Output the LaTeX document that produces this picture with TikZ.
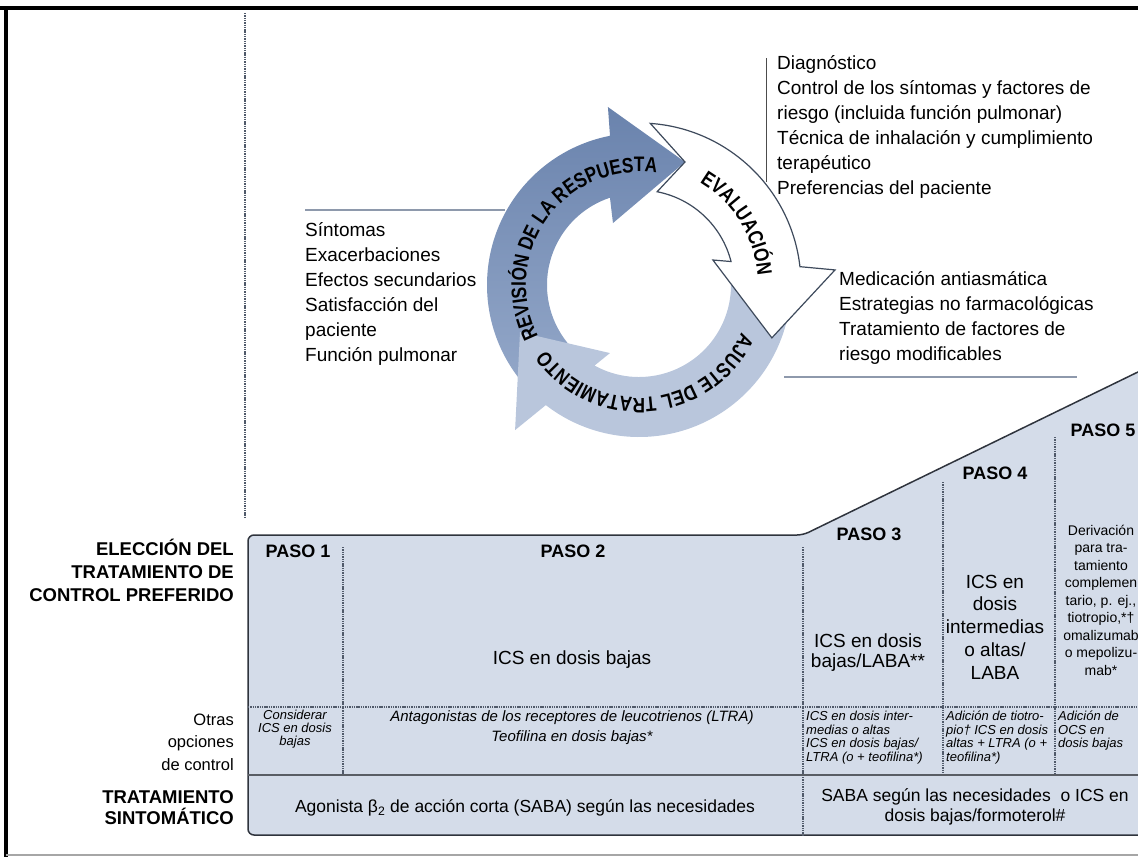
\documentclass[tikz,border=0pt]{standalone}
\usepackage{fontspec}
\setmainfont{Liberation Sans}
\newfontfamily\cycfam[FakeStretch=0.82]{Liberation Sans}
\usetikzlibrary{decorations.text}

\definecolor{revblue}{HTML}{7D94BA}
\definecolor{revdark}{HTML}{6A83AD}
\definecolor{revlight}{HTML}{94A8C9}
\definecolor{ajugrey}{HTML}{B9C6DC}
\definecolor{evaline}{HTML}{3E4A5C}
\definecolor{tabfill}{HTML}{D4DCE9}
\definecolor{tabline}{HTML}{2F343D}
\definecolor{dotline}{HTML}{505A6A}
\definecolor{rulegrey}{HTML}{8E99AC}

\begin{document}
\begin{tikzpicture}[x=1pt, y=1pt,
  txt/.style={font=\fontsize{19}{25}\selectfont, align=left, inner sep=0pt},
  lbl/.style={font=\bfseries\fontsize{18.5}{23}\selectfont, align=right, inner sep=0pt},
  lbltwo/.style={font=\bfseries\fontsize{18.5}{21}\selectfont, align=right, inner sep=0pt},
  side/.style={font=\fontsize{16.5}{22.5}\selectfont, align=right, inner sep=0pt},
  paso/.style={font=\bfseries\fontsize{18}{20}\selectfont, inner sep=0pt},
  big/.style={font=\fontsize{19}{21}\selectfont, align=center, inner sep=0pt},
  small/.style={font=\itshape\fontsize{13}{13.5}\selectfont, align=left, inner sep=0pt},
  divider/.style={draw=dotline, line width=1.1pt, dash pattern=on 1.4pt off 0.9pt},
  rowline/.style={draw=tabline!80, line width=1.4pt}]
\newcommand{\cycin}{92}
\newcommand{\cycout}{152}
\newcommand{\cycfont}{\cycfam\bfseries\fontsize{21}{21}\selectfont}

\useasboundingbox (0,0) rectangle (1138,-857);
\clip (0,0) rectangle (1138,-857);

% frame
\draw [line width=4pt] (0,-8) -- (1138,-8);
\draw [line width=4pt] (6,-8) -- (6,-857);
\draw [line width=1.5pt, color=black!35] (6,-855) -- (1138,-855);
\draw [divider] (245,-13) -- (245,-518);

% cycle
\begin{scope}[shift={(639,-285)}]
\coordinate (O) at (0,0);
\shade [top color=revdark, bottom color=revlight]
  (225:\cycout) arc [start angle=225, end angle=101, radius=\cycout]
  -- (99.9:180.7) -- (69.5:131.3) -- (112.8:67.2) -- (108.4:\cycin)
  arc [start angle=108.4, end angle=225, radius=\cycin] -- cycle;
\fill [ajugrey] (2:\cycout) arc [start angle=2, end angle=-127.8, radius=\cycout]
  -- (-130.5:190.8) -- (-158.4:128) -- (-113.1:74) -- (-118.9:\cycin)
  arc [start angle=-118.9, end angle=2, radius=\cycin] -- cycle;
\draw [fill=white, draw=evaline, line width=1.2pt, line join=miter]
  (86:162) arc [start angle=86, end angle=6.5, radius=162]
  -- (4.4:196.6) -- (-21.7:143) -- (18.7:78) -- (14.3:95)
  arc [start angle=14.3, end angle=79, radius=95] -- (69.5:131.3) -- cycle;

\path [decorate, decoration={text along path, text align=center,
  text={|\cycfont|REVISIÓN DE LA RESPUESTA}}]
  (224:113) arc [start angle=224, end angle=64, radius=113];
\path [decorate, decoration={text along path, text align=center,
  text={|\cycfont|EVALUACIÓN}}]
  (75:119) arc [start angle=75, end angle=-11, radius=119];
\path [decorate, decoration={text along path, text align=center,
  text={|\cycfont|AJUSTE DEL TRATAMIENTO}}]
  (-5:113) arc [start angle=-5, end angle=-165, radius=113];
\end{scope}

% texts around the cycle
\draw [color=black!70, line width=1pt] (766,-58) -- (766,-182);
\node [txt, anchor=west] (evalist) at (777,-127)
  {Diagnóstico\\Control de los síntomas y factores de\\riesgo (incluida función pulmonar)\\Técnica de inhalación y cumplimiento\\terapéutico\\Preferencias del paciente};
\draw [color=rulegrey, line width=1.5pt] (305,-210) -- (505,-210);
\node [txt, anchor=west] (revlist) at (305,-294)
  {Síntomas\\Exacerbaciones\\Efectos secundarios\\Satisfacción del\\paciente\\Función pulmonar};
\node [txt, anchor=west] (ajulist) at (839,-317.5)
  {Medicación antiasmática\\Estrategias no farmacológicas\\Tratamiento de factores de\\riesgo modificables};
\draw [color=rulegrey, line width=1.5pt] (784,-377) -- (1077,-377);

% table
\draw [fill=tabfill, draw=tabline, line width=1.5pt, rounded corners=6]
  (803,-535) -- (1170,-356.4) -- (1170,-835) -- (248,-835) -- (248,-535) -- cycle;
\draw [divider] (343,-547) -- (343,-775);
\draw [divider] (803,-547) -- (803,-835);
\draw [divider] (943,-482) -- (943,-773);
\draw [divider] (1055,-437) -- (1055,-773);
\draw [divider] (248,-707) -- (1170,-707);
\draw [rowline] (248,-775) -- (1170,-775);

\node [lbl, anchor=east] (eleccion) at (234,-570) {ELECCIÓN DEL\\TRATAMIENTO DE\\CONTROL PREFERIDO};
\node [side, anchor=east] (otras) at (234,-742) {Otras\\opciones\\de control};
\node [lbltwo, anchor=east] (sintom) at (234,-808) {TRATAMIENTO\\SINTOMÁTICO};

\node [paso] (paso1) at (298,-551) {PASO 1};
\node [paso] (paso2) at (573,-551) {PASO 2};
\node [paso] (paso3) at (869,-534) {PASO 3};
\node [paso] (paso4) at (995,-473) {PASO 4};
\node [paso] (paso5) at (1103,-430) {PASO 5};

\node [big] (pref2) at (572,-660) {ICS en dosis bajas};
\node [big, font=\fontsize{19}{20}\selectfont] (pref3) at (868,-653) {ICS en dosis\\bajas/LABA**};
\node [big, font=\fontsize{19}{22.7}\selectfont] (pref4) at (995,-627) {ICS en\\dosis\\intermedias\\o altas/\\LABA};
\node [big, font=\fontsize{14}{17.5}\selectfont] (pref5) at (1101,-600)
  {Derivación\\para tra-\\tamiento\\complemen\\tario, p. ej.,\\tiotropio,*†\\omalizumab\\o mepolizu-\\mab*};

\node [small, align=center, font=\itshape\fontsize{13}{13}\selectfont] (otra1) at (295,-729) {Considerar\\ICS en dosis\\bajas};
\node [small, align=center, font=\itshape\fontsize{15}{20}\selectfont] (otra2) at (572,-728)
  {Antagonistas de los receptores de leucotrienos (LTRA)\\Teofilina en dosis bajas*};
\node [small, anchor=north west] (otra3) at (806,-711) {ICS en dosis inter-\\medias o altas\\ICS en dosis bajas/\\LTRA (o + teofilina*)};
\node [small, anchor=north west] (otra4) at (946,-711) {Adición de tiotro-\\pio† ICS en dosis\\altas + LTRA (o +\\teofilina*)};
\node [small, anchor=north west] (otra5) at (1058,-711) {Adición de\\OCS en\\dosis bajas};

\node [big, font=\fontsize{17.5}{20}\selectfont] (agon) at (525,-808) {Agonista β\textsubscript{2} de acción corta (SABA) según las necesidades};
\node [big, font=\fontsize{17.5}{20}\selectfont] (saba) at (975,-807) {SABA según las necesidades\ \ o ICS en\\dosis bajas/formoterol\#};
\end{tikzpicture}
\end{document}
